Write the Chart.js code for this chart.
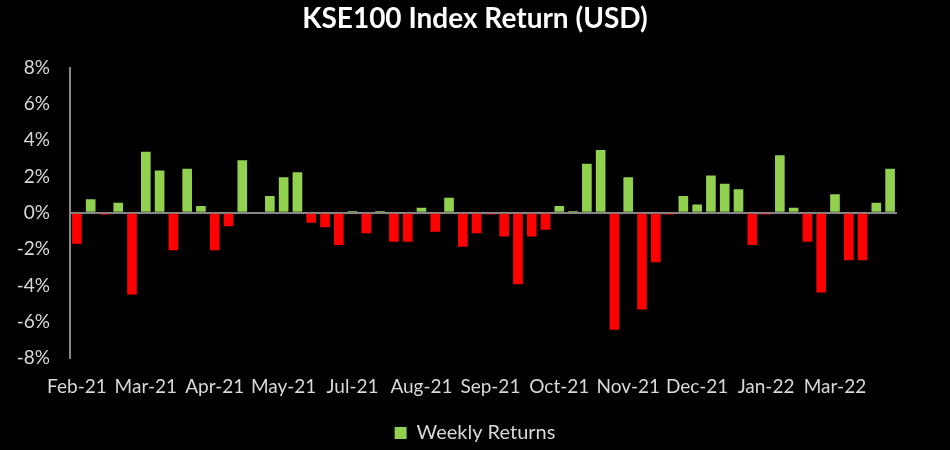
<!DOCTYPE html>
<html>
<head>
<meta charset="utf-8">
<script src="https://cdn.jsdelivr.net/npm/chart.js@4"></script>
<style>
  html, body { margin: 0; padding: 0; background: #000; }
  #wrap { width: 950px; height: 450px; }
</style>
</head>
<body>
<div id="wrap"><canvas id="grafico"></canvas></div>
<script>
// semanas (rotulo do mes de cada semana)
const semanas = [
  'Feb-21', 'Feb-21', 'Feb-21', 'Feb-21', 'Feb-21',
  'Mar-21', 'Mar-21', 'Mar-21', 'Mar-21', 'Mar-21',
  'Apr-21', 'Apr-21', 'Apr-21', 'Apr-21', 'Apr-21',
  'May-21', 'May-21', 'May-21', 'Jun-21', 'Jun-21',
  'Jul-21', 'Jul-21', 'Jul-21', 'Jul-21', 'Jul-21',
  'Aug-21', 'Aug-21', 'Aug-21', 'Aug-21', 'Sep-21',
  'Sep-21', 'Sep-21', 'Sep-21', 'Sep-21', 'Oct-21',
  'Oct-21', 'Oct-21', 'Oct-21', 'Oct-21', 'Nov-21',
  'Nov-21', 'Nov-21', 'Nov-21', 'Nov-21', 'Dec-21',
  'Dec-21', 'Dec-21', 'Dec-21', 'Jan-22', 'Jan-22',
  'Jan-22', 'Jan-22', 'Feb-22', 'Feb-22', 'Feb-22',
  'Mar-22', 'Mar-22', 'Mar-22', 'Mar-22', 'Mar-22'
];

// retornos semanais em %
const retornos = [
  -1.7, 0.74, -0.1, 0.55, -4.5, 3.37, 2.33, -2.07, 2.43, 0.37,
  -2.07, -0.74, 2.9, 0, 0.93, 1.96, 2.24, -0.55, -0.8, -1.78,
  0.1, -1.13, 0.1, -1.6, -1.6, 0.28, -1.04, 0.83, -1.87, -1.13,
  -0.1, -1.3, -3.93, -1.3, -0.93, 0.37, 0.1, 2.7, 3.46, -6.44,
  1.96, -5.33, -2.72, -0.1, 0.93, 0.46, 2.06, 1.6, 1.3, -1.78,
  -0.1, 3.17, 0.28, -1.6, -4.39, 1.02, -2.61, -2.61, 0.55, 2.43
];

const ticksY = [-8, -6, -4, -2, 0, 2, 4, 6, 8];

const verde = '#92d050';
const vermelho = '#ff0000';
const cinza = '#878787';
const textoCor = '#d9d9d9';

const ctx = document.getElementById('grafico').getContext('2d');
const chart = new Chart(ctx, {
  type: 'bar',
  data: {
    labels: semanas,
    datasets: [
      {
        label: 'Weekly Returns',
        data: retornos,
        backgroundColor: retornos.map(v => v < 0 ? vermelho : verde),
        barPercentage: 0.7,
        categoryPercentage: 1.0
      }
    ]
  },
  options: {
    responsive: true,
    maintainAspectRatio: false,
    animation: false,
    layout: { padding: { top: 0, left: 0, right: 0, bottom: -3 } },
    plugins: {
      title: {
        display: true,
        text: 'KSE100 Index Return (USD)',
        color: '#ffffff',
        font: { family: 'Lato', size: 28, weight: 'bold' },
        padding: { top: 2, bottom: 32 }
      },
      legend: {
        position: 'bottom',
        labels: {
          color: textoCor,
          font: { family: 'Lato', size: 20 },
          boxWidth: 12,
          boxHeight: 12,
          padding: 0,
          generateLabels: () => [{
            text: 'Weekly Returns',
            fillStyle: verde,
            strokeStyle: verde,
            lineWidth: 0,
            fontColor: textoCor
          }]
        }
      },
      tooltip: { enabled: false }
    },
    scales: {
      x: {
        grid: { display: false },
        border: { display: false },
        afterFit: s => { s.height = 65; },
        ticks: {
          color: textoCor,
          font: { family: 'Lato', size: 19 },
          autoSkip: false,
          maxRotation: 0,
          padding: 9,
          callback: function (val, i) {
            return i % 5 === 0 ? semanas[i] : '';
          }
        }
      },
      y: {
        min: -8,
        max: 8,
        afterBuildTicks: s => { s.ticks = ticksY.map(v => ({ value: v })); },
        afterFit: s => { s.width = 70; },
        border: { display: true, color: cinza, width: 2 },
        grid: {
          drawTicks: false,
          lineWidth: 2,
          color: c => c.tick && c.tick.value === 0 ? cinza : 'rgba(0,0,0,0)'
        },
        ticks: {
          color: textoCor,
          font: { family: 'Lato', size: 19 },
          padding: 20,
          callback: v => v + '%'
        }
      },
      // eixo vazio a direita so para reservar a margem
      margem: {
        position: 'right',
        afterFit: s => { s.width = 53; },
        ticks: { display: false },
        grid: { display: false },
        border: { display: false }
      }
    }
  }
});
</script>
</body>
</html>
